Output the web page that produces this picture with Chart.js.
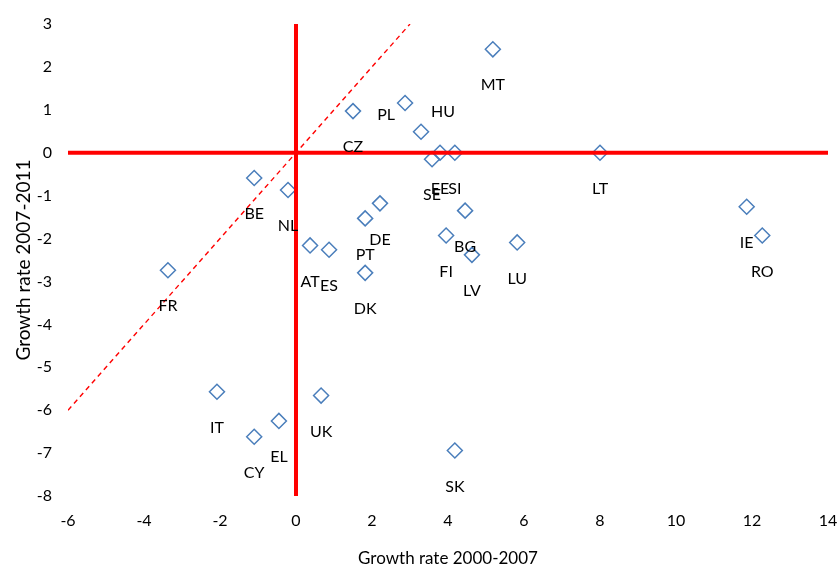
<!DOCTYPE html>
<html>
<head>
<meta charset="utf-8">
<script src="https://cdn.jsdelivr.net/npm/chart.js@4"></script>
<style>
  html, body { margin: 0; padding: 0; background: #fff; }
  #wrap { width: 839px; height: 570px; }
</style>
</head>
<body>
<div id="wrap"><canvas id="c" width="839" height="570"></canvas></div>
<script>
// ---- data ----
const countries = ['MT','PL','CZ','HU','SE','EE','SI','LT','BE','NL','DE','PT','BG','FI','LV','LU','AT','ES','DK','IE','RO','FR','IT','CY','EL','UK','SK'];
const growth2000_2007 = [5.18, 2.87, 1.50, 3.29, 3.58, 3.79, 4.18, 8.00, -1.10, -0.21, 2.21, 1.82, 4.45, 3.95, 4.63, 5.82, 0.37, 0.87, 1.82, 11.86, 12.27, -3.37, -2.08, -1.10, -0.45, 0.66, 4.18];
const growth2007_2011 = [2.41, 1.16, 0.97, 0.49, -0.15, 0.00, 0.00, 0.00, -0.59, -0.87, -1.18, -1.53, -1.35, -1.93, -2.38, -2.09, -2.16, -2.26, -2.80, -1.26, -1.93, -2.74, -5.57, -6.62, -6.25, -5.66, -6.94];
const xTicks = [-6, -4, -2, 0, 2, 4, 6, 8, 10, 12, 14];
const yTicks = [3, 2, 1, 0, -1, -2, -3, -4, -5, -6, -7, -8];
const xTitle = 'Growth rate 2000-2007';
const yTitle = 'Growth rate 2007-2011';
const diagonalLine = [-6, 3]; // y = x, from x=-6 to x=3

// label placement (pixel offsets from the marker); default is below the marker
const labelOffsetDefault = [0, 36];
const labelOffsetSpecial = { PL: [-19, 12], HU: [22, -20] };

const FONT = 'Lato, "Open Sans", sans-serif';

const points = countries.map((c, i) => ({ x: growth2000_2007[i], y: growth2007_2011[i] }));

const labelPlugin = {
  id: 'countryLabels',
  afterDatasetsDraw(chart) {
    const meta = chart.getDatasetMeta(3);
    const ctx = chart.ctx;
    ctx.save();
    ctx.font = '16px ' + FONT;
    ctx.fillStyle = '#000';
    ctx.textAlign = 'center';
    ctx.textBaseline = 'middle';
    meta.data.forEach((el, i) => {
      const name = countries[i];
      const off = labelOffsetSpecial[name] || labelOffsetDefault;
      ctx.fillText(name, el.x + off[0], el.y + off[1]);
    });
    ctx.restore();
  }
};

new Chart(document.getElementById('c'), {
  type: 'scatter',
  data: {
    datasets: [
      {
        data: [{ x: xTicks[0], y: 0 }, { x: xTicks[xTicks.length - 1], y: 0 }],
        showLine: true, borderColor: '#ff0000', borderWidth: 4, pointRadius: 0, fill: false
      },
      {
        data: [{ x: 0, y: yTicks[yTicks.length - 1] }, { x: 0, y: yTicks[0] }],
        showLine: true, borderColor: '#ff0000', borderWidth: 4, pointRadius: 0, fill: false
      },
      {
        data: diagonalLine.map(v => ({ x: v, y: v })),
        showLine: true, borderColor: '#ff0000', borderWidth: 1.4, borderDash: [5, 4], pointRadius: 0, fill: false
      },
      {
        data: points,
        pointStyle: 'rectRot', pointRadius: 7.5, pointHoverRadius: 7.5,
        borderColor: '#4a7ebb', backgroundColor: 'rgba(0,0,0,0)', pointBorderWidth: 1.5, borderWidth: 1.5
      }
    ]
  },
  options: {
    responsive: false,
    animation: false,
    events: [],
    layout: { padding: { top: 24, right: 11, left: 0, bottom: 0 } },
    plugins: { legend: { display: false }, tooltip: { enabled: false } },
    scales: {
      x: {
        type: 'linear', min: xTicks[0], max: xTicks[xTicks.length - 1],
        afterBuildTicks: s => { s.ticks = xTicks.map(v => ({ value: v })); },
        afterFit: s => { s.height = 74; s.paddingLeft = 0; s.paddingRight = 0; },
        grid: { display: false, drawTicks: false },
        border: { display: false },
        ticks: { padding: 15, color: '#000', font: { family: FONT, size: 16 }, maxRotation: 0, autoSkip: false },
        title: { display: true, text: xTitle, color: '#000', font: { family: FONT, size: 17 }, padding: { top: 0, bottom: 1 } }
      },
      y: {
        type: 'linear', min: yTicks[yTicks.length - 1], max: yTicks[0],
        afterBuildTicks: s => { s.ticks = yTicks.slice().reverse().map(v => ({ value: v })); },
        afterFit: s => { s.width = 68; s.paddingTop = 0; s.paddingBottom = 0; },
        grid: { display: false, drawTicks: false },
        border: { display: false },
        ticks: { padding: 16, color: '#000', font: { family: FONT, size: 16 }, autoSkip: false },
        title: { display: true, text: yTitle, color: '#000', font: { family: FONT, size: 19 }, padding: { top: 12, bottom: 0 } }
      }
    }
  },
  plugins: [labelPlugin]
});
</script>
</body>
</html>
